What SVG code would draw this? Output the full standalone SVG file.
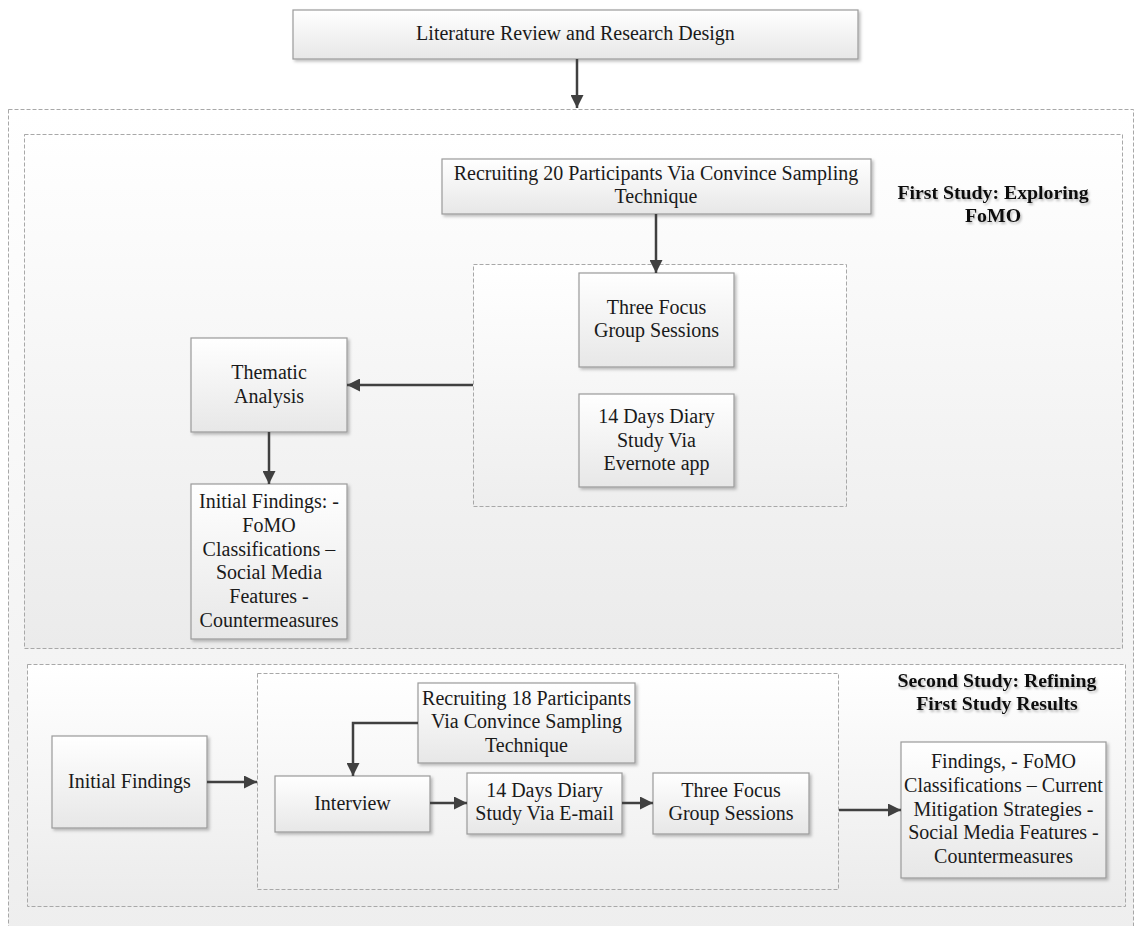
<svg xmlns="http://www.w3.org/2000/svg" width="1135" height="926" viewBox="0 0 1135 926">
<defs>
<linearGradient id="gBox" x1="0" y1="0" x2="0" y2="1"><stop offset="0" stop-color="#ffffff"/><stop offset="1" stop-color="#e7e7e7"/></linearGradient>
<linearGradient id="gOuter" x1="0" y1="0" x2="0" y2="1"><stop offset="0" stop-color="#ffffff"/><stop offset="1" stop-color="#eeeeee"/></linearGradient>
<linearGradient id="gCont" x1="0" y1="0" x2="0" y2="1"><stop offset="0" stop-color="#ffffff"/><stop offset="1" stop-color="#ebebeb"/></linearGradient>
<linearGradient id="gInner" x1="0" y1="0" x2="0" y2="1"><stop offset="0" stop-color="#ffffff"/><stop offset="1" stop-color="#eeeeee"/></linearGradient>
<filter id="sh" x="-10%" y="-10%" width="130%" height="140%"><feDropShadow dx="2" dy="2" stdDeviation="1.5" flood-color="#000" flood-opacity="0.25"/></filter>
<filter id="tsh" x="-10%" y="-30%" width="120%" height="180%"><feDropShadow dx="1.5" dy="2" stdDeviation="1.2" flood-color="#000" flood-opacity="0.25"/></filter>
<marker id="ah" viewBox="0 0 10 10" refX="10" refY="5" markerWidth="13" markerHeight="13" markerUnits="userSpaceOnUse" orient="auto"><path d="M0,0 L10,5 L0,10 z" fill="#404040"/></marker>
</defs>
<style>
.box{fill:url(#gBox);stroke:#9a9a9a;stroke-width:1.2;filter:url(#sh)}
.dash{stroke:#a8a8a8;stroke-width:1;stroke-dasharray:4 2}
.t{font-family:"Liberation Serif","Times New Roman",serif;font-size:20px;fill:#1a1a1a;text-anchor:middle}
.b{font-family:"Liberation Serif","Times New Roman",serif;font-size:19.8px;font-weight:bold;fill:#111;text-anchor:middle;filter:url(#tsh)}
.c{fill:none;stroke:#404040;stroke-width:2.5;marker-end:url(#ah)}
</style>
<rect width="1135" height="926" fill="#ffffff"/>
<g id="outer"><rect class="dash" x="8.5" y="109.5" width="1125" height="830" fill="url(#gOuter)"/></g>
<g id="first-study"><rect class="dash" x="24.5" y="134.5" width="1098" height="514" fill="url(#gCont)"/>
<text class="b" x="993" y="199">First Study: Exploring</text><text class="b" x="993" y="222">FoMO</text></g>
<g id="first-inner"><rect class="dash" x="473.5" y="264.5" width="373" height="242" fill="url(#gInner)"/></g>
<g id="second-study"><rect class="dash" x="27.5" y="664.5" width="1098" height="242" fill="url(#gCont)"/>
<text class="b" x="997" y="687">Second Study: Refining</text><text class="b" x="997" y="710">First Study Results</text></g>
<g id="second-inner"><rect class="dash" x="257.5" y="673.5" width="581" height="216" fill="url(#gInner)"/></g>

<g id="lit"><rect class="box" x="293" y="10" width="565" height="49"/><text class="t" x="575.5" y="40">Literature Review and Research Design</text></g>
<g id="rec20"><rect class="box" x="442" y="159" width="429" height="55"/><text class="t" x="656" y="180">Recruiting 20 Participants Via Convince Sampling</text><text class="t" x="656" y="203">Technique</text></g>
<g id="focus1"><rect class="box" x="579" y="273" width="155" height="94"/><text class="t" x="656.5" y="314">Three Focus</text><text class="t" x="656.5" y="337">Group Sessions</text></g>
<g id="diary1"><rect class="box" x="579" y="394" width="155" height="93"/><text class="t" x="656.5" y="423">14 Days Diary</text><text class="t" x="656.5" y="447">Study Via</text><text class="t" x="656.5" y="470">Evernote app</text></g>
<g id="thematic"><rect class="box" x="191" y="338" width="156" height="94"/><text class="t" x="269" y="379">Thematic</text><text class="t" x="269" y="403">Analysis</text></g>
<g id="initial1"><rect class="box" x="191" y="484" width="156" height="155"/>
<text class="t" x="269" y="508">Initial Findings: -</text><text class="t" x="269" y="532">FoMO</text><text class="t" x="269" y="556">Classifications –</text><text class="t" x="269" y="579">Social Media</text><text class="t" x="269" y="603">Features -</text><text class="t" x="269" y="627">Countermeasures</text></g>
<g id="initial2"><rect class="box" x="52" y="736" width="155" height="92"/><text class="t" x="129.5" y="788">Initial Findings</text></g>
<g id="rec18"><rect class="box" x="418" y="683" width="217" height="80"/><text class="t" x="526.5" y="705">Recruiting 18 Participants</text><text class="t" x="526.5" y="728">Via Convince Sampling</text><text class="t" x="526.5" y="752">Technique</text></g>
<g id="interview"><rect class="box" x="275" y="776" width="155" height="56"/><text class="t" x="352.5" y="810">Interview</text></g>
<g id="diary2"><rect class="box" x="467" y="773" width="155" height="61"/><text class="t" x="544.5" y="797">14 Days Diary</text><text class="t" x="544.5" y="820">Study Via E-mail</text></g>
<g id="focus2"><rect class="box" x="653" y="773" width="156" height="61"/><text class="t" x="731" y="797">Three Focus</text><text class="t" x="731" y="820">Group Sessions</text></g>
<g id="findings"><rect class="box" x="901" y="742" width="205" height="136"/>
<text class="t" x="1003.5" y="768">Findings, - FoMO</text><text class="t" x="1003.5" y="792">Classifications – Current</text><text class="t" x="1003.5" y="816">Mitigation Strategies -</text><text class="t" x="1003.5" y="839">Social Media Features -</text><text class="t" x="1003.5" y="863">Countermeasures</text></g>

<g id="connectors">
<path class="c" d="M577,59 V108"/>
<path class="c" d="M656,214 V273"/>
<path class="c" d="M473,385 H347"/>
<path class="c" d="M269,432 V484"/>
<path class="c" d="M207,782 H257"/>
<path class="c" d="M418,723 H353 V776"/>
<path class="c" d="M430,803 H467"/>
<path class="c" d="M622,803 H653"/>
<path class="c" d="M839,810 H901"/>
</g>
</svg>
